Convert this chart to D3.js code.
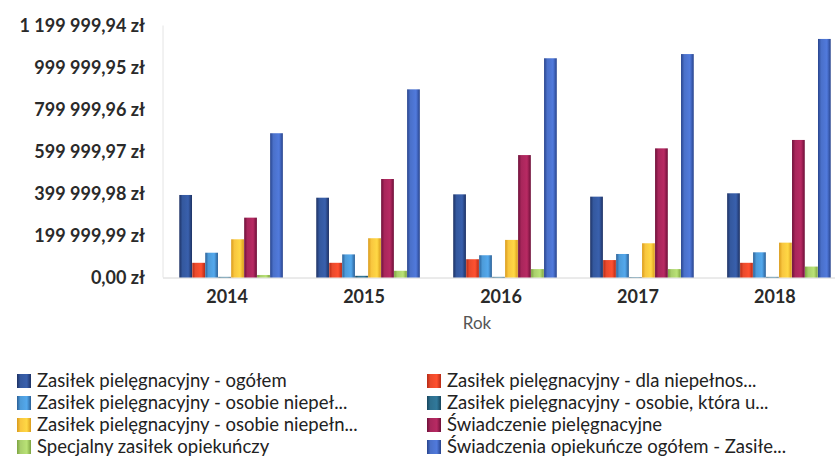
<!DOCTYPE html>
<html>
<head>
<meta charset="utf-8">
<script src="https://cdn.jsdelivr.net/npm/d3@7"></script>
<style>
  html, body { margin: 0; padding: 0; background: #fff; }
  svg { display: block; font-family: Lato, "Open Sans", sans-serif; }
</style>
</head>
<body>
<svg id="chart" width="835" height="470"></svg>
<script>
// Years on the category axis
const years = ["2014", "2015", "2016", "2017", "2018"];

// Benefit series (legend labels, in bar order within each year)
const seriesNames = [
  "Zasiłek pielęgnacyjny - ogółem",
  "Zasiłek pielęgnacyjny - dla niepełnos...",
  "Zasiłek pielęgnacyjny - osobie niepeł...",
  "Zasiłek pielęgnacyjny - osobie, która u...",
  "Zasiłek pielęgnacyjny -  osobie niepełn...",
  "Świadczenie pielęgnacyjne",
  "Specjalny zasiłek opiekuńczy",
  "Świadczenia opiekuńcze ogółem - Zasiłe..."
];

// Amounts in zł, one array per series, one value per year
const zasilekOgolem        = [393000, 380000, 396000, 385000, 401000];
const dlaNiepelnosprawnego = [70000, 70000, 87000, 83000, 70000];
const osobieNiepelnA       = [118000, 110000, 106000, 112000, 120000];
const osobieKtora          = [3000, 8000, 3000, 2000, 3000];
const osobieNiepelnB       = [182000, 187000, 179000, 163000, 166000];
const swiadczeniePiel      = [285000, 469000, 583000, 615000, 655000];
const specjalnyZasilek     = [12000, 32000, 40000, 40000, 52000];
const swiadczeniaOgolem    = [687000, 896000, 1044000, 1064000, 1136000];

const seriesValues = [
  zasilekOgolem, dlaNiepelnosprawnego, osobieNiepelnA, osobieKtora,
  osobieNiepelnB, swiadczeniePiel, specjalnyZasilek, swiadczeniaOgolem
];

// Value-axis ticks
const yTicks = [0, 199999.99, 399999.98, 599999.97, 799999.96, 999999.95, 1199999.94];

const colors = ["#34589e", "#ea4a2c", "#4d9bd9", "#2d6f8e", "#f8c63f", "#a8265b", "#a9cf6c", "#4a70c9"];
const edges  = ["#1d3163", "#b52a16", "#2a5f96", "#17455c", "#d99a1a", "#6d0f38", "#7ca340", "#27438c"];

const svg = d3.select("#chart");
const defs = svg.append("defs");

// soft horizontal shading on each bar
colors.forEach((c, i) => {
  const g = defs.append("linearGradient").attr("id", "grad" + i)
    .attr("x1", "0%").attr("x2", "100%").attr("y1", "0%").attr("y2", "0%");
  g.append("stop").attr("offset", "0%").attr("stop-color", edges[i]);
  g.append("stop").attr("offset", "25%").attr("stop-color", c);
  g.append("stop").attr("offset", "70%").attr("stop-color", d3.color(c).brighter(0.25));
  g.append("stop").attr("offset", "100%").attr("stop-color", edges[i]);
});

const plotLeft = 163, plotRight = 847;
const yTop = 25.5, yBase = 277.5;

const x0 = d3.scaleBand().domain(years).range([plotLeft, plotRight])
  .paddingInner(0.24).paddingOuter(0.117);
const x1 = d3.scaleBand().domain(d3.range(seriesNames.length))
  .range([0, x0.bandwidth()]).padding(0.02);
const y = d3.scaleLinear().domain([0, 1199999.94]).range([yBase, yTop]);

const pl = d3.formatLocale({ decimal: ",", thousands: "\u00a0", grouping: [3], currency: ["", " zł"] });
const fmt = v => pl.format(",.2f")(v) + " zł";

// faint value-axis line and baseline
svg.append("line").attr("x1", plotLeft).attr("x2", plotLeft)
  .attr("y1", y(1199999.94)).attr("y2", yBase)
  .attr("stroke", "#e4e4e4").attr("stroke-width", 1);
svg.append("line").attr("x1", plotLeft).attr("x2", 835)
  .attr("y1", yBase + 0.5).attr("y2", yBase + 0.5)
  .attr("stroke", "#d6d6d6").attr("stroke-width", 1);

// y axis labels
const yAxis = d3.axisLeft(y).tickValues(yTicks).tickFormat(fmt).tickSize(0).tickPadding(0);
const gy = svg.append("g").attr("transform", `translate(${145},0)`).call(yAxis);
gy.select(".domain").remove();
gy.selectAll("text")
  .attr("fill", "#2a2a2a").style("font-size", "18px").style("font-weight", "bold")
  .style("font-family", "Lato, sans-serif");

// bars
const groups = svg.append("g").selectAll("g").data(years).join("g")
  .attr("transform", d => `translate(${x0(d)},0)`);
groups.selectAll("rect")
  .data((yr, yi) => seriesValues.map((vals, si) => ({ si, v: vals[yi] })))
  .join("rect")
  .attr("x", d => x1(d.si))
  .attr("width", x1.bandwidth())
  .attr("y", d => y(d.v))
  .attr("height", d => yBase - y(d.v))
  .attr("fill", d => `url(#grad${d.si})`);

// x axis labels
const xAxis = d3.axisBottom(x0).tickSize(0).tickPadding(0);
const gx = svg.append("g").attr("transform", `translate(-4,${yBase + 13})`).call(xAxis);
gx.select(".domain").remove();
gx.selectAll("text")
  .attr("fill", "#2a2a2a").style("font-size", "18px").style("font-weight", "bold")
  .style("font-family", "Lato, sans-serif");

// axis title
svg.append("text").attr("x", 477).attr("y", 329).attr("text-anchor", "middle")
  .attr("fill", "#555").style("font-size", "17px").text("Rok");

// legend: two columns, series filled column by column
const legend = svg.append("g");
seriesNames.forEach((name, i) => {
  const col = i % 2, row = Math.floor(i / 2);
  const lx = col === 0 ? 17 : 427;
  const ly = 374 + row * 22;
  legend.append("rect").attr("x", lx).attr("y", ly).attr("width", 14).attr("height", 14)
    .attr("fill", `url(#grad${i})`);
  legend.append("text").attr("x", lx + 20).attr("y", ly + 12.5)
    .attr("fill", "#222").style("font-size", "18.5px").text(name);
});
</script>
</body>
</html>
